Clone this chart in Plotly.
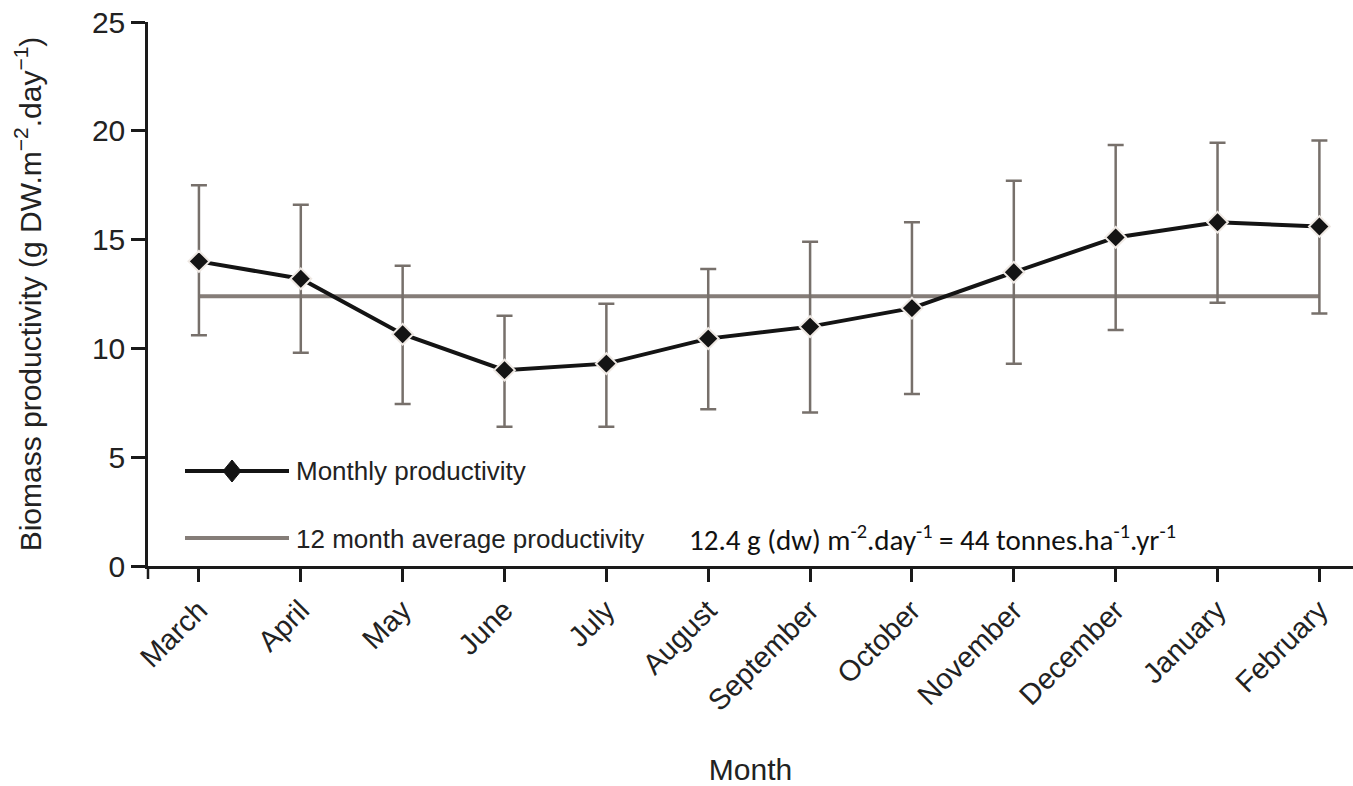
import plotly.graph_objects as go

months = ["March", "April", "May", "June", "July", "August", "September",
          "October", "November", "December", "January", "February"]
productivity = [14.0, 13.2, 10.65, 9.0, 9.3, 10.45, 11.0, 11.85, 13.5, 15.1, 15.8, 15.6]
err_upper = [17.5, 16.6, 13.8, 11.5, 12.05, 13.65, 14.9, 15.8, 17.7, 19.35, 19.45, 19.55]
err_lower = [10.6, 9.8, 7.45, 6.4, 6.4, 7.2, 7.05, 7.9, 9.3, 10.85, 12.1, 11.6]
average = 12.4

plus = [u - m for u, m in zip(err_upper, productivity)]
minus = [m - l for m, l in zip(productivity, err_lower)]

AX_FONT = "Liberation Sans, Arial, Helvetica, sans-serif"
TXT = "#222222"

# page pixel -> paper coords (plot area spans x 148..1353, y 22..566)
PL, PR, PT, PB = 148, 1353, 22, 566
def px(x):
    return (x - PL) / (PR - PL)
def py(y):
    return (PB - y) / (PB - PT)

fig = go.Figure()

fig.add_trace(go.Scatter(
    x=months, y=[average] * len(months), mode="lines",
    line=dict(color="#857d78", width=4), showlegend=False, hoverinfo="skip"))

fig.add_trace(go.Scatter(
    x=months, y=productivity, mode="lines+markers",
    line=dict(color="#141414", width=4),
    marker=dict(symbol="diamond", size=16, color="#141414",
                line=dict(color="#efe9e4", width=2)),
    error_y=dict(type="data", symmetric=False, array=plus, arrayminus=minus,
                 color="#77706b", thickness=2.5, width=8),
    showlegend=False))

shapes = [
    # legend: monthly productivity
    dict(type="line", xref="paper", yref="paper", x0=px(185), x1=px(289),
         y0=py(471), y1=py(471), line=dict(color="#141414", width=4)),
    dict(type="path", xref="paper", yref="paper", xsizemode="pixel", ysizemode="pixel",
         xanchor=px(232), yanchor=py(471),
         path="M -9,0 L 0,11 L 9,0 L 0,-11 Z", fillcolor="#141414",
         line=dict(color="#141414", width=1)),
    # legend: average
    dict(type="line", xref="paper", yref="paper", x0=px(185), x1=px(289),
         y0=py(538), y1=py(538), line=dict(color="#857d78", width=4)),
    # corner tick below the axis origin
    dict(type="line", xref="paper", yref="paper", ysizemode="pixel", yanchor=0,
         x0=0, x1=0, y0=-13, y1=0, line=dict(color="#1a1a1a", width=2.5)),
]

annotations = [
    dict(text="Monthly productivity", xref="paper", yref="paper",
         x=px(294), y=py(471), xanchor="left", yanchor="middle",
         showarrow=False, font=dict(family=AX_FONT, size=26, color=TXT)),
    dict(text="12 month average productivity", xref="paper", yref="paper",
         x=px(294), y=py(539), xanchor="left", yanchor="middle",
         showarrow=False, font=dict(family=AX_FONT, size=26, color=TXT)),
    dict(text="12.4 g (dw) m<sup>-2</sup>.day<sup>-1</sup> = 44 tonnes.ha<sup>-1</sup>.yr<sup>-1</sup>",
         xref="paper", yref="paper",
         x=px(687), y=py(538), xanchor="left", yanchor="middle",
         showarrow=False, font=dict(family="Carlito, Lato, sans-serif", size=29, color="#111111")),
]

fig.update_layout(
    width=1353, height=786,
    margin=dict(l=148, r=0, t=22, b=220, autoexpand=False),
    paper_bgcolor="white", plot_bgcolor="white",
    shapes=shapes, annotations=annotations,
    xaxis=dict(
        range=[-0.5, 11.33], showgrid=False, zeroline=False, automargin=False,
        showline=True, linecolor="#1a1a1a", linewidth=2.5,
        ticks="outside", ticklen=13, tickwidth=2.5, tickcolor="#1a1a1a",
        tickangle=-45, tickfont=dict(family=AX_FONT, size=29, color=TXT),
        title=dict(text="Month", font=dict(family=AX_FONT, size=30, color=TXT),
                   standoff=53),
    ),
    yaxis=dict(
        range=[0, 25], tickvals=[0, 5, 10, 15, 20, 25], showgrid=False, zeroline=False,
        automargin=False,
        showline=True, linecolor="#1a1a1a", linewidth=2.5,
        ticks="outside", ticklen=14, tickwidth=2.5, tickcolor="#1a1a1a",
        ticklabeloverflow="allow",
        tickfont=dict(family=AX_FONT, size=30, color=TXT),
        title=dict(text="Biomass productivity (g DW.m<sup>−2</sup>.day<sup>−1</sup>)",
                   font=dict(family=AX_FONT, size=30, color=TXT), standoff=42),
    ),
)

fig.write_html("out.html", config={"displayModeBar": False},
               post_script="document.body.style.margin='0';document.body.style.overflow='hidden';")
